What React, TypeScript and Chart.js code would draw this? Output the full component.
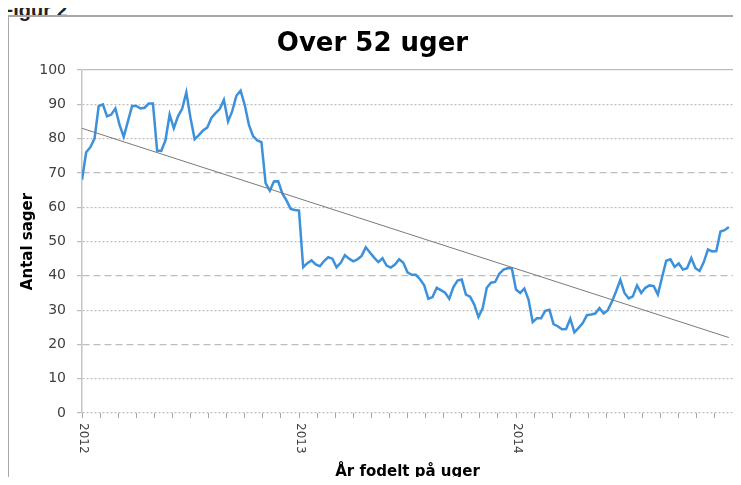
import React, { useEffect, useRef } from 'react';
import { Chart, registerables } from 'chart.js';

Chart.register(...registerables);

// Weekly number of cases, week 0 = first week of 2012
const weeklyCases: number[] = [
  68, 76, 77.5, 80, 89.5, 90, 86.5, 87, 88.8, 84,
  80.5, 85, 89.5, 89.5, 88.8, 89, 90.2, 90.2, 76.5, 76.4,
  79.5, 87, 83, 86.5, 88.7, 93.5, 86, 79.8, 81, 82.4,
  83.2, 86, 87.4, 88.6, 91.3, 85, 88, 92.5, 94, 89.8,
  84, 80.7, 79.5, 79, 67, 64.8, 67.5, 67.6, 64, 62,
  59.5, 59.2, 59, 42.5, 43.7, 44.5, 43.3, 42.8, 44.3, 45.4,
  45, 42.5, 43.8, 46, 45, 44.2, 44.8, 45.8, 48.3, 46.8,
  45.3, 44, 45.1, 43, 42.4, 43.3, 44.8, 43.8, 41, 40.3,
  40.3, 39, 37.2, 33.3, 33.8, 36.5, 35.8, 35.1, 33.3, 36.7,
  38.6, 38.9, 34.5, 33.9, 31.6, 28, 30.5, 36.5, 38, 38.2,
  40.6, 41.8, 42.2, 42.2, 36, 35, 36.3, 33.1, 26.5, 27.6,
  27.6, 29.8, 30.1, 25.9, 25.3, 24.4, 24.5, 27.5, 23.5, 24.8,
  26.2, 28.5, 28.7, 29, 30.6, 29, 30, 32.5, 35.5, 38.8,
  35, 33.4, 34, 37.2, 35, 36.5, 37.2, 37, 34.5, 39.6,
  44.4, 44.8, 42.6, 43.6, 41.8, 42.2, 45.2, 42.2, 41.4, 44,
  47.7, 47.1, 47.2, 52.9, 53.3, 54.2,
];

// Linear trend line end points
const trendWeeks: number[] = [0, 155];
const trendValues: number[] = [83, 22];

// Axis labels
const yearLabels: string[] = ['2012', '2013', '2014'];
const yearStartWeeks: number[] = [0, 52, 104];
const weeksPerYear = 52;
const monthTickCount = 36;
const xMaxWeek = 156;
const yTickValues: number[] = [0, 10, 20, 30, 40, 50, 60, 70, 80, 90, 100];
const dashedLevels: number[] = [20, 40, 70];

const chartTitle = 'Over 52 uger';
const yTitle = 'Antal sager';
const xTitle = 'År fodelt på uger';
const figureCaption = 'Figur 2';

const FONT = '"DejaVu Sans", Verdana, sans-serif';

export default function App() {
  const canvasRef = useRef<HTMLCanvasElement>(null);

  useEffect(() => {
    if (!canvasRef.current) return;

    const yearLabelPlugin = {
      id: 'yearLabels',
      afterDraw(chart: any) {
        const xs = chart.scales.x;
        const ctx = chart.ctx;
        ctx.save();
        ctx.font = `12px ${FONT}`;
        ctx.fillStyle = '#404040';
        ctx.textAlign = 'left';
        ctx.textBaseline = 'middle';
        yearLabels.forEach((label, i) => {
          const px = xs.getPixelForValue(yearStartWeeks[i]) + 1;
          ctx.save();
          ctx.translate(px, xs.top + 10);
          ctx.rotate(Math.PI / 2);
          ctx.fillText(label, 0, 0);
          ctx.restore();
        });
        ctx.restore();
      },
    };

    const chart = new Chart(canvasRef.current, {
      type: 'line',
      data: {
        datasets: [
          {
            data: trendWeeks.map((w, i) => ({ x: w, y: trendValues[i] })),
            borderColor: '#7a7a7a',
            borderWidth: 1,
            pointRadius: 0,
            tension: 0,
            order: 0,
          },
          {
            data: weeklyCases.map((v, i) => ({ x: i, y: v })),
            borderColor: '#3d91da',
            borderWidth: 2.5,
            pointRadius: 0,
            tension: 0,
            order: 1,
          },
        ],
      },
      options: {
        animation: false,
        responsive: false,
        maintainAspectRatio: false,
        layout: { padding: { left: 12, right: 8, top: 14, bottom: 4 } },
        plugins: {
          legend: { display: false },
          tooltip: { enabled: false },
          title: {
            display: true,
            text: chartTitle,
            color: '#000',
            font: { family: FONT, size: 26, weight: 'bold' },
            padding: { top: 15, bottom: 9.8 },
          },
        },
        scales: {
          x: {
            type: 'linear',
            min: 0,
            max: xMaxWeek,
            afterBuildTicks: (scale: any) => {
              scale.ticks = Array.from({ length: monthTickCount + 1 }, (_, i) => ({
                value: (i * weeksPerYear) / 12,
              }));
            },
            ticks: { display: false },
            grid: {
              drawOnChartArea: false,
              drawTicks: true,
              tickLength: 5,
              color: '#a6a6a6',
            },
            border: { display: false },
            title: {
              display: true,
              text: xTitle,
              color: '#000',
              font: { family: FONT, size: 15, weight: 'bold' },
              padding: 0,
            },
            afterFit: (scale: any) => {
              scale.height = 68;
            },
          },
          y: {
            min: 0,
            max: 100,
            afterBuildTicks: (scale: any) => {
              scale.ticks = yTickValues.map((v) => ({ value: v }));
            },
            ticks: {
              color: '#404040',
              font: { family: FONT, size: 14 },
              padding: 11,
            },
            grid: {
              color: '#bdbdbd',
              lineWidth: 1.2,
              tickLength: 5,
            },
            border: {
              display: true,
              color: '#c4c4c4',
              width: 1.5,
              dash: (ctx: any) => {
                if (!ctx.tick) return [];
                const v = ctx.tick.value;
                if (v === 100) return [];
                return dashedLevels.includes(v) ? [7, 4] : [2, 2];
              },
            },
            title: {
              display: true,
              text: yTitle,
              color: '#000',
              font: { family: FONT, size: 15, weight: 'bold' },
              padding: { top: 7, bottom: 0 },
            },
            afterFit: (scale: any) => {
              scale.width = 70;
            },
          },
        },
      },
      plugins: [yearLabelPlugin],
    } as any);

    return () => chart.destroy();
  }, []);

  return (
    <div
      style={{
        position: 'relative',
        margin: -8,
        width: 741,
        height: 485,
        overflow: 'hidden',
        background: '#fff',
      }}
    >
      <div
        style={{
          position: 'absolute',
          left: 1,
          top: 0,
          fontFamily: '"Liberation Sans", Arial, sans-serif',
          fontWeight: 'bold',
          fontSize: 20,
          lineHeight: '20px',
          color: '#222',
          whiteSpace: 'nowrap',
        }}
      >
        {figureCaption}
      </div>
      <div
        style={{
          position: 'absolute',
          left: 7,
          top: 15,
          width: 800,
          height: 600,
          border: '2px solid #a8a8a8',
          boxSizing: 'border-box',
        }}
      />
      <canvas
        ref={canvasRef}
        width={741}
        height={485}
        style={{ position: 'absolute', left: 0, top: 0, display: 'block' }}
      />
    </div>
  );
}
